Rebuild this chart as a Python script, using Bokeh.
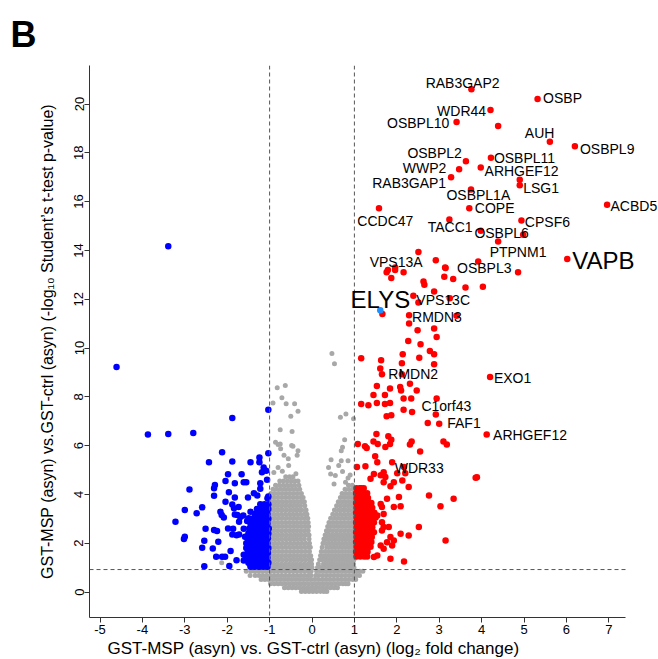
from bokeh.plotting import figure
from bokeh.models import ColumnDataSource, Span, FixedTicker, Range1d, LabelSet, Title
from bokeh.core.properties import value
from bokeh.embed import file_html
from bokeh.resources import INLINE

FONT = "Liberation Sans"

# ---------------- data ----------------
x_ticks = [-5, -4, -3, -2, -1, 0, 1, 2, 3, 4, 5, 6, 7]
y_ticks = [0, 2, 4, 6, 8, 10, 12, 14, 16, 18, 20]
fc_cut = [-1, 1]
p_cut = 0.92

# dense grey core, rows of (y, [x ...])
grey_rows = [
    (4.72, [-0.62, -0.53, -0.45]),
    (4.55, [-0.76, -0.67, -0.58, -0.49, -0.40, -0.33]),
    (4.38, [-0.86, -0.77, -0.68, -0.59, -0.50, -0.41, -0.31, 0.86, 0.95]),
    (4.21, [-0.92, -0.83, -0.74, -0.65, -0.56, -0.47, -0.38, -0.29, 0.78, 0.87, 0.96]),
    (4.04, [-0.97, -0.88, -0.79, -0.70, -0.61, -0.52, -0.43, -0.34, -0.25, 0.71, 0.80, 0.89, 0.98]),
    (3.87, [-0.99, -0.90, -0.81, -0.72, -0.63, -0.54, -0.45, -0.36, -0.27, -0.21, 0.67, 0.76, 0.85, 0.94, 0.99]),
    (3.70, [-0.96, -0.87, -0.78, -0.69, -0.60, -0.51, -0.42, -0.33, -0.24, -0.18, 0.62, 0.71, 0.80, 0.89, 0.98]),
    (3.53, [-0.99, -0.90, -0.81, -0.72, -0.63, -0.54, -0.45, -0.36, -0.27, -0.17, 0.58, 0.67, 0.76, 0.85, 0.94, 0.99]),
    (3.36, [-0.96, -0.87, -0.78, -0.69, -0.60, -0.51, -0.42, -0.33, -0.24, -0.14, 0.53, 0.62, 0.71, 0.80, 0.89, 0.98]),
    (3.19, [-0.99, -0.90, -0.81, -0.72, -0.63, -0.54, -0.45, -0.36, -0.27, -0.18, -0.12, 0.49, 0.58, 0.67, 0.76, 0.85, 0.94, 0.99]),
    (3.02, [-0.96, -0.87, -0.78, -0.69, -0.60, -0.51, -0.42, -0.33, -0.24, -0.15, -0.10, 0.44, 0.53, 0.62, 0.71, 0.80, 0.89, 0.98]),
    (2.85, [-0.99, -0.90, -0.81, -0.72, -0.63, -0.54, -0.45, -0.36, -0.27, -0.18, -0.09, 0.40, 0.49, 0.58, 0.67, 0.76, 0.85, 0.94, 0.99]),
    (2.68, [-0.96, -0.87, -0.78, -0.69, -0.60, -0.51, -0.42, -0.33, -0.24, -0.15, -0.08, 0.37, 0.44, 0.53, 0.62, 0.71, 0.80, 0.89, 0.98]),
    (2.51, [-0.99, -0.90, -0.81, -0.72, -0.63, -0.54, -0.45, -0.36, -0.27, -0.18, -0.09, 0.34, 0.40, 0.49, 0.58, 0.67, 0.76, 0.85, 0.94, 0.99]),
    (2.34, [-0.96, -0.87, -0.78, -0.69, -0.60, -0.51, -0.42, -0.33, -0.24, -0.15, -0.07, 0.31, 0.39, 0.47, 0.55, 0.63, 0.71, 0.79, 0.87, 0.95, 0.99]),
    (2.17, [-0.99, -0.90, -0.81, -0.72, -0.63, -0.54, -0.45, -0.36, -0.27, -0.18, -0.07, 0.28, 0.35, 0.43, 0.51, 0.59, 0.67, 0.75, 0.83, 0.91, 0.98]),
    (2.00, [-0.96, -0.87, -0.78, -0.69, -0.60, -0.51, -0.42, -0.33, -0.24, -0.15, -0.06, 0.26, 0.31, 0.39, 0.47, 0.55, 0.63, 0.71, 0.79, 0.87, 0.95, 0.99]),
    (1.83, [-0.99, -0.90, -0.81, -0.72, -0.63, -0.54, -0.45, -0.36, -0.27, -0.18, -0.09, -0.04, 0.24, 0.35, 0.43, 0.51, 0.59, 0.67, 0.75, 0.83, 0.91, 0.98]),
    (1.66, [-0.96, -0.87, -0.78, -0.69, -0.60, -0.51, -0.42, -0.33, -0.24, -0.15, -0.06, 0.22, 0.31, 0.39, 0.47, 0.55, 0.63, 0.71, 0.79, 0.87, 0.95, 0.99]),
    (1.49, [-0.99, -0.90, -0.81, -0.72, -0.63, -0.54, -0.45, -0.36, -0.27, -0.18, -0.09, -0.03, 0.20, 0.27, 0.35, 0.43, 0.51, 0.59, 0.67, 0.75, 0.83, 0.91, 0.98]),
    (1.32, [-0.96, -0.87, -0.78, -0.69, -0.60, -0.51, -0.42, -0.33, -0.24, -0.15, -0.06, -0.01, 0.18, 0.23, 0.31, 0.39, 0.47, 0.55, 0.63, 0.71, 0.79, 0.87, 0.95, 0.99]),
    (1.15, [-0.99, -0.90, -0.81, -0.72, -0.63, -0.54, -0.45, -0.36, -0.27, -0.18, -0.09, -0.01, 0.15, 0.27, 0.35, 0.43, 0.51, 0.59, 0.67, 0.75, 0.83, 0.91, 0.98]),
    (1.00, [-0.96, -0.87, -0.78, -0.69, -0.60, -0.51, -0.42, -0.33, -0.24, -0.15, -0.06, 0.00, 0.13, 0.21, 0.29, 0.37, 0.45, 0.53, 0.61, 0.69, 0.77, 0.85, 0.93, 0.99]),
    (0.85, [-1.55, -1.44, -1.35, -1.26, -1.17, -1.08, -0.99, -0.90, -0.81, -0.72, -0.63, -0.54, -0.45, -0.36, -0.27, -0.18, -0.09, -0.02,
            0.11, 0.20, 0.29, 0.38, 0.47, 0.56, 0.65, 0.74, 0.83, 0.92, 0.99, 1.06, 1.13, 1.20]),
    (0.68, [-1.46, -1.34, -1.25, -1.16, -1.07, -0.98, -0.89, -0.80, -0.71, -0.62, -0.53, -0.44, -0.35, -0.26, -0.17, -0.08, -0.02,
            0.09, 0.16, 0.25, 0.34, 0.43, 0.52, 0.61, 0.70, 0.79, 0.88, 0.97, 1.05, 1.12]),
    (0.51, [-1.20, -1.11, -1.02, -0.93, -0.84, -0.75, -0.66, -0.57, -0.48, -0.39, -0.30, -0.21, -0.12, -0.03, 0.06, 0.15, 0.24, 0.33,
            0.42, 0.51, 0.60, 0.69, 0.78, 0.87, 0.96, 1.03]),
    (0.34, [-0.98, -0.89, -0.80, -0.71, -0.62, -0.53, -0.44, -0.35, -0.26, -0.17, -0.08, 0.01, 0.10, 0.19, 0.28, 0.37, 0.46, 0.55,
            0.64, 0.73, 0.80, 0.85]),
    (0.17, [-0.65, -0.56, -0.47, -0.38, -0.29, -0.20, -0.11, -0.02, 0.07, 0.16, 0.25, 0.34, 0.43, 0.52, 0.60]),
    (0.02, [-0.25, -0.16, -0.07, 0.02, 0.11, 0.20, 0.28, 0.35]),
]

grey_x_sparse = [0.47, 0.53, -0.82, -0.63, -0.92, -0.71, -0.61, -0.41, -0.33, -0.50, 0.67, 0.80, 0.98,
                 -0.75, -0.47, 0.77, -0.80, -0.75, -0.45, -0.33, 0.72, 0.69, 0.45, 0.69, 0.85, -0.56,
                 -0.80, 0.39, 0.55, 0.72, 0.85, 0.90, -0.86, -0.48, -0.66, -0.35, -0.74, -0.55, 0.63,
                 0.44, 0.79, 0.52, -0.90, -0.70, -0.38, -2.13]
grey_y_sparse = [9.77, 9.35, 8.37, 8.46, 7.75, 7.96, 7.72, 7.72, 7.41, 7.20, 7.16, 7.30, 7.10,
                 6.65, 6.58, 6.24, 6.04, 6.07, 5.97, 5.79, 5.93, 5.79, 5.42, 5.38, 5.38, 5.46,
                 5.10, 5.10, 4.77, 4.94, 4.67, 4.80, 6.14, 6.00, 5.60, 5.60, 5.87, 5.18, 5.18,
                 4.84, 4.50, 4.43, 4.90, 4.95, 4.85, 1.20]

blue_rows = [
    (3.60, [-1.22, -1.12, -1.03]),
    (3.40, [-1.30, -1.20, -1.10, -1.03]),
    (3.20, [-1.35, -1.25, -1.15, -1.05]),
    (3.00, [-1.40, -1.30, -1.20, -1.10, -1.03]),
    (2.80, [-1.45, -1.35, -1.25, -1.15, -1.05]),
    (2.60, [-1.48, -1.38, -1.28, -1.18, -1.08, -1.02]),
    (2.40, [-1.50, -1.40, -1.30, -1.20, -1.10, -1.03]),
    (2.20, [-1.52, -1.42, -1.32, -1.22, -1.12, -1.04]),
    (2.00, [-1.55, -1.45, -1.35, -1.25, -1.15, -1.05]),
    (1.80, [-1.55, -1.46, -1.37, -1.28, -1.19, -1.10, -1.03]),
    (1.60, [-1.52, -1.42, -1.32, -1.22, -1.12, -1.04]),
    (1.40, [-1.55, -1.45, -1.35, -1.25, -1.15, -1.05]),
    (1.20, [-1.50, -1.40, -1.30, -1.20, -1.10, -1.03]),
    (1.03, [-1.45, -1.35, -1.25, -1.15, -1.05]),
]
blue_x_sparse = [-3.39, -4.61, -3.87, -3.39, -2.80, -1.88, -1.03, -1.03, -2.12, -2.43, -1.88, -1.45, -1.24,
                 -1.24, -1.14, -1.08, -2.89, -1.98, -1.66, -2.04, -1.82, -1.61, -1.55, -2.29, -2.31, -1.22,
                 -1.06, -1.96, -2.31, -1.82, -1.51, -1.37, -1.29, -1.03, -1.05, -3.22, -3.00, -2.72, -2.59,
                 -3.00, -3.02, -2.54, -2.59, -2.34, -2.21, -2.54, -2.26, -2.12, -2.05, -1.92, -1.95, -1.78,
                 -1.61, -1.45, -2.31, -2.24, -2.13, -2.08, -2.16, -2.04, -1.88, -1.98, -1.88, -1.78, -1.72,
                 -1.82, -1.76, -1.72, -1.58, -1.84, -1.53, -1.49, -1.45, -1.22, -1.73, -1.18, -2.51, -1.86,
                 -1.61, -1.69, -1.62, -1.61]
blue_y_sparse = [14.17, 9.22, 6.45, 6.48, 6.52, 7.13, 7.47, 5.69, 5.73, 5.32, 5.35, 5.32, 5.51,
                 5.32, 5.10, 4.97, 4.20, 4.83, 4.83, 4.55, 4.46, 4.50, 4.50, 4.39, 4.25, 4.46,
                 4.60, 4.09, 3.94, 3.87, 3.87, 4.05, 3.95, 3.91, 3.84, 2.88, 3.36, 3.23, 3.47,
                 2.26, 2.17, 2.10, 1.81, 1.78, 2.06, 1.06, 1.44, 1.44, 1.44, 1.68, 1.07, 1.30,
                 1.53, 1.10, 2.54, 2.50, 3.16, 3.05, 3.29, 3.70, 3.59, 2.60, 2.36, 2.33, 2.36,
                 3.18, 3.16, 2.88, 2.26, 3.43, 2.91, 3.02, 3.29, 4.23, 3.48, 4.91, 2.59, 2.59,
                 2.59, 3.07, 3.14, 1.29]

red_rows = [
    (4.25, [1.05, 1.13, 1.22]),
    (4.05, [1.04, 1.13, 1.22, 1.30]),
    (3.85, [1.05, 1.14, 1.23, 1.32]),
    (3.65, [1.04, 1.13, 1.22, 1.31, 1.40]),
    (3.45, [1.05, 1.14, 1.23, 1.32, 1.42]),
    (3.25, [1.04, 1.13, 1.22, 1.31, 1.40, 1.47]),
    (3.05, [1.05, 1.14, 1.23, 1.32, 1.41, 1.50]),
    (2.85, [1.04, 1.13, 1.22, 1.31, 1.40, 1.46]),
    (2.65, [1.05, 1.14, 1.23, 1.32, 1.42]),
    (2.45, [1.04, 1.13, 1.22, 1.31, 1.40, 1.46]),
    (2.25, [1.05, 1.14, 1.23, 1.32, 1.41]),
    (2.05, [1.04, 1.13, 1.22, 1.31, 1.40]),
    (1.85, [1.05, 1.14, 1.23, 1.32, 1.38]),
    (1.65, [1.04, 1.13, 1.22, 1.31]),
    (1.45, [1.05, 1.14, 1.23, 1.30]),
]
red_x_sparse = [3.76, 5.32, 4.21, 3.41, 4.39, 5.61, 6.20, 3.63, 4.22, 3.47, 3.98, 3.28, 4.90, 4.90,
                3.75, 6.96, 1.58, 3.71, 3.24, 4.94, 3.98, 4.98, 4.39, 6.02, 2.51, 2.92, 3.14, 1.96,
                1.79, 3.92,
                1.76, 1.96, 2.16, 1.87, 3.15, 3.12, 3.33, 4.86, 2.63, 2.65, 2.88, 3.62, 4.03, 2.39,
                2.51, 3.25, 1.66, 2.29, 3.41, 2.29, 2.88, 2.49, 2.94, 2.27, 2.56, 2.78, 2.88, 1.16,
                1.63, 2.14, 2.53, 2.12, 2.88, 1.61, 1.65, 2.12, 4.20, 2.31, 1.53, 1.84, 2.08, 2.10,
                2.47, 1.45, 1.72, 2.16, 2.34, 2.94, 1.16, 1.33, 1.53, 1.72, 1.84, 2.16, 2.36, 2.92,
                1.76, 1.87, 2.73, 3.00, 4.12, 1.08, 1.25, 1.29, 1.45, 1.55, 1.80, 1.87, 1.84, 2.35,
                2.31, 3.10, 3.18, 2.55, 1.49,
                1.52, 1.73, 1.54, 1.89, 1.06, 1.26, 2.17, 2.20, 2.01, 1.69, 1.62, 1.38, 1.93, 2.13,
                1.85, 1.73, 3.86, 3.89, 2.76, 3.34, 3.03, 2.05, 1.77, 1.93, 2.09, 2.52, 1.65, 1.69,
                1.81, 3.15, 2.28, 2.09, 1.89, 1.85, 2.17, 1.46, 1.16,
                1.46, 1.69, 2.28, 1.62, 1.65, 1.69, 1.54, 1.65, 1.85, 1.93, 1.77, 1.62, 1.69, 1.54]
red_y_sparse = [20.60, 20.20, 19.75, 19.26, 19.10, 18.45, 18.27, 17.65, 17.80, 17.33, 17.40, 17.00, 16.90, 16.67,
                16.50, 15.87, 15.73, 15.73, 15.27, 15.23, 14.81, 14.64, 14.36, 13.65, 13.93, 13.60, 13.30, 13.30,
                13.20, 13.55,
                13.10, 13.20, 13.10, 12.87, 13.28, 12.92, 12.83, 13.10, 12.73, 12.59, 12.32, 12.48, 12.51, 12.14,
                11.86, 12.04, 11.39, 11.34, 11.32, 11.00, 10.80, 10.73, 10.45, 10.29, 10.15, 9.88, 9.74, 9.58,
                9.50, 9.74, 9.60, 9.37, 9.33, 9.16, 8.92, 8.92, 8.81, 8.53, 8.44, 8.34, 8.40, 8.26,
                8.26, 8.07, 8.07, 7.93, 7.93, 7.93, 7.71, 7.65, 7.75, 7.71, 7.75, 7.47, 7.38, 7.27,
                7.20, 7.24, 6.93, 6.90, 6.45, 6.07, 5.97, 5.90, 6.17, 6.07, 6.38, 6.24, 6.07, 6.17,
                6.04, 6.17, 6.04, 5.76, 5.56,
                6.48, 5.94, 5.32, 5.32, 5.12, 5.15, 5.12, 4.87, 4.87, 4.91, 4.78, 4.64, 4.50, 4.57,
                4.33, 4.71, 4.68, 4.70, 3.96, 3.82, 3.51, 3.89, 3.82, 3.48, 3.51, 2.66, 2.86, 2.66,
                2.66, 2.11, 2.32, 2.39, 1.91, 1.36, 1.25, 1.43, 4.25,
                4.84, 4.50, 4.30, 3.61, 3.48, 3.20, 3.14, 2.52, 2.25, 2.11, 2.04, 1.91, 1.77, 1.50]

elys_x = [1.61]
elys_y = [11.55]

gene_names = ["RAB3GAP2", "OSBP", "WDR44", "OSBPL10", "AUH", "OSBPL9", "OSBPL2", "OSBPL11", "WWP2",
              "ARHGEF12", "RAB3GAP1", "LSG1", "OSBPL1A", "COPE", "ACBD5", "CCDC47", "TACC1", "CPSF6",
              "OSBPL6", "PTPNM1", "VAPB", "VPS13A", "OSBPL3", "ELYS", "VPS13C", "RMDN3", "RMDN2",
              "EXO1", "C1orf43", "FAF1", "ARHGEF12", "WDR33"]
gene_label_x = [2.68, 5.45, 2.95, 1.77, 5.02, 6.32, 2.25, 4.29, 2.14,
                4.07, 1.42, 4.98, 3.17, 3.84, 7.04, 1.07, 2.73, 5.02,
                3.83, 4.19, 6.14, 1.36, 3.42, 0.91, 2.46, 2.36, 1.80,
                4.29, 2.58, 3.19, 4.27, 1.95]
gene_label_y = [20.85, 20.24, 19.73, 19.23, 18.82, 18.16, 18.00, 17.80, 17.37,
                17.27, 16.78, 16.57, 16.29, 15.73, 15.84, 15.20, 14.95, 15.16,
                14.72, 13.93, 13.59, 13.52, 13.28, 11.98, 11.98, 11.26, 8.94,
                8.78, 7.64, 6.93, 6.44, 5.07]
gene_label_big = ["VAPB", "ELYS"]

x_title = "GST-MSP (asyn) vs. GST-ctrl (asyn) (log\u2082 fold change)"
y_title = "GST-MSP (asyn) vs.GST-ctrl (asyn) (-log\u2081\u2080 Student\u2019s t-test p-value)"
panel_letter = "B"


def flatten(rows, xs, ys):
    ox, oy = [], []
    for yv, xl in rows:
        for xv in xl:
            ox.append(xv)
            oy.append(yv)
    return ox + list(xs), oy + list(ys)


gx, gy = flatten(grey_rows, grey_x_sparse, grey_y_sparse)
bx, by = flatten(blue_rows, blue_x_sparse, blue_y_sparse)
rx, ry = flatten(red_rows, red_x_sparse, red_y_sparse)

# ---------------- figure ----------------
W, H = 658, 659
FL, FT, FB = 89, 65, 617      # frame edges (canvas px); frame runs to the right canvas edge
AXR = 625                     # visible end of the x axis line
X0, XS = 311.5, 42.4          # canvas x of 0, px per unit
Y0, YS = 591.5, 24.4          # canvas y of 0, px per unit


def dx(px):
    return (px - X0) / XS


def dy(py):
    return (Y0 - py) / YS


p = figure(width=W, height=H, output_backend="svg", toolbar_location=None,
           x_range=Range1d(dx(FL), dx(W)), y_range=Range1d(dy(FB), dy(FT)),
           min_border_left=FL, min_border_right=0, min_border_top=FT, min_border_bottom=H - FB)
p.outline_line_color = None
p.grid.visible = False
p.background_fill_color = "white"
p.border_fill_color = "white"

p.scatter(gx, gy, size=5, color="#A8A8A8", line_color=None)
for c in fc_cut:
    p.add_layout(Span(location=c, dimension="height", line_color="#555555", line_width=1, line_dash="4 3"))
p.segment(x0=[dx(FL)], y0=[p_cut], x1=[dx(AXR)], y1=[p_cut], line_color="#555555", line_width=1,
          line_dash="4 3")
p.scatter(bx, by, size=6.5, color="#0000FF", line_color=None)
p.scatter(rx, ry, size=6.5, color="#FF0000", line_color=None)
p.scatter(elys_x, elys_y, size=6.5, color="#1E90FF", line_color=None)

small = [i for i, g in enumerate(gene_names) if g not in gene_label_big]
big = [i for i, g in enumerate(gene_names) if g in gene_label_big]
src_small = ColumnDataSource(dict(x=[gene_label_x[i] for i in small], y=[gene_label_y[i] for i in small],
                                  text=[gene_names[i] for i in small]))
src_big = ColumnDataSource(dict(x=[gene_label_x[i] for i in big], y=[gene_label_y[i] for i in big],
                                text=[gene_names[i] for i in big]))
p.add_layout(LabelSet(x="x", y="y", text="text", source=src_small, text_font=value(FONT),
                      text_font_size=value("14px"), text_align="left", text_baseline="middle",
                      text_color="black"))
p.add_layout(LabelSet(x="x", y="y", text="text", source=src_big, text_font=value(FONT),
                      text_font_size=value("24px"), text_align="left", text_baseline="middle",
                      text_color="black"))

# axes
for ax in (p.xaxis[0], p.yaxis[0]):
    ax.axis_line_color = "#333333"
    ax.major_tick_line_color = "#333333"
    ax.major_tick_in = 0
    ax.major_tick_out = 5
    ax.minor_tick_line_color = None
    ax.major_label_text_font = FONT
    ax.major_label_text_font_size = "13px"
    ax.major_label_text_color = "black"
    ax.axis_label_text_font = FONT
    ax.axis_label_text_font_style = "normal"
    ax.axis_label_text_color = "black"

p.xaxis.ticker = FixedTicker(ticks=x_ticks)
p.yaxis.ticker = FixedTicker(ticks=y_ticks)
p.xaxis.bounds = (dx(FL), dx(AXR))
p.xaxis.major_label_overrides = {t: str(t) for t in x_ticks}
p.yaxis.major_label_overrides = {t: str(t) for t in y_ticks}
p.xaxis.major_label_standoff = 2
p.yaxis.major_label_orientation = "vertical"
p.yaxis.major_label_standoff = 1
p.yaxis.axis_label_standoff = 16
p.yaxis.axis_label = y_title
p.yaxis.axis_label_text_font_size = "16px"

# x axis title, placed under the axis and centred on the visible axis line
p.add_layout(Title(text=x_title, text_font=FONT, text_font_size="17px", text_font_style="normal",
                   align="left", offset=18, standoff=0, text_color="black"), "below")

p.add_layout(Title(text=panel_letter, text_font=FONT, text_font_size="36px", text_font_style="bold",
                   align="left", offset=-79, standoff=22, text_color="black"), "above")

open("out.html", "w").write(file_html(p, INLINE))
